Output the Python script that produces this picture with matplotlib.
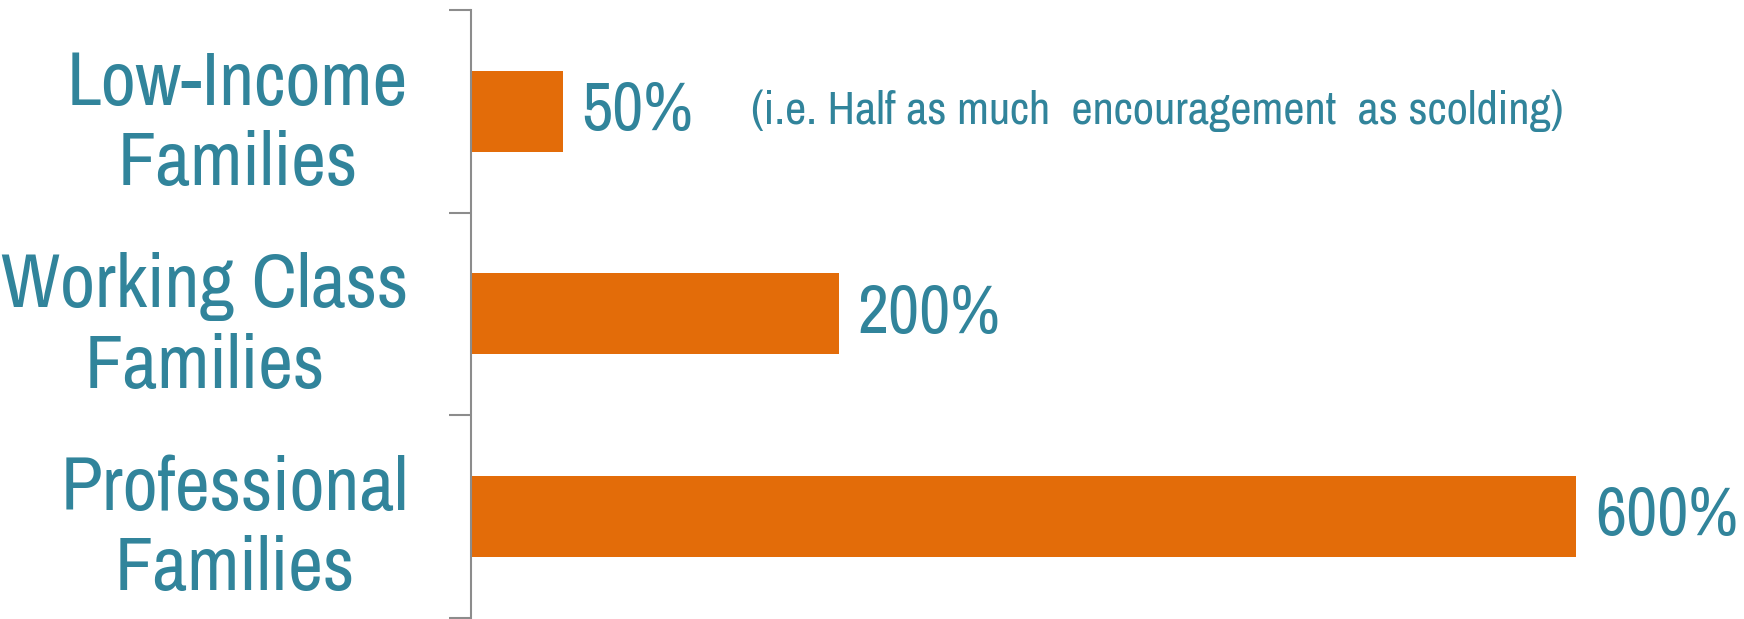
import matplotlib.pyplot as plt
from matplotlib.transforms import ScaledTranslation

categories = ['Low-Income\nFamilies', 'Working Class\nFamilies', 'Professional\nFamilies']
values = [50, 200, 600]
value_labels = ['50%', '200%', '600%']
note = '(i.e. Half as much  encouragement  as scolding)'

plt.rcParams['font.family'] = ['Archivo Narrow', 'Liberation Sans', 'DejaVu Sans']

teal = '#31849B'
orange = '#E36C09'
gray = '#8C8C8C'

fig = plt.figure(figsize=(17.44, 6.19), dpi=100)
ax = fig.add_axes([0.27, 0.002, 0.73, 0.982])

y = list(range(len(categories)))
ax.barh(y, values, height=0.4, color=orange)
ax.set_xlim(0, 691)
ax.set_ylim(2.5, -0.5)

for yi, v, lab in zip(y, values, value_labels):
    ax.text(v + 10, yi, lab, va='center', ha='left', color=teal, fontsize=49)
ax.text(152, 0, note, va='center', ha='left', color=teal, fontsize=33.5)

ax.set_yticks(y)
ax.set_yticklabels(categories, fontsize=55, color=teal, multialignment='center',
                   linespacing=1.22)
# nudge the category labels up a little
shift = ScaledTranslation(0, 0.1, fig.dpi_scale_trans)
for lab in ax.get_yticklabels():
    lab.set_transform(lab.get_transform() + shift)
ax.tick_params(axis='y', which='major', length=0, pad=45)
ax.set_yticks([-0.5, 0.5, 1.5, 2.5], minor=True)
ax.tick_params(axis='y', which='minor', length=16, width=1.5, color=gray)
ax.set_xticks([])
for s in ['top', 'right', 'bottom']:
    ax.spines[s].set_visible(False)
ax.spines['left'].set_color(gray)
ax.spines['left'].set_linewidth(1.5)

fig.savefig('out.png', dpi=100)
